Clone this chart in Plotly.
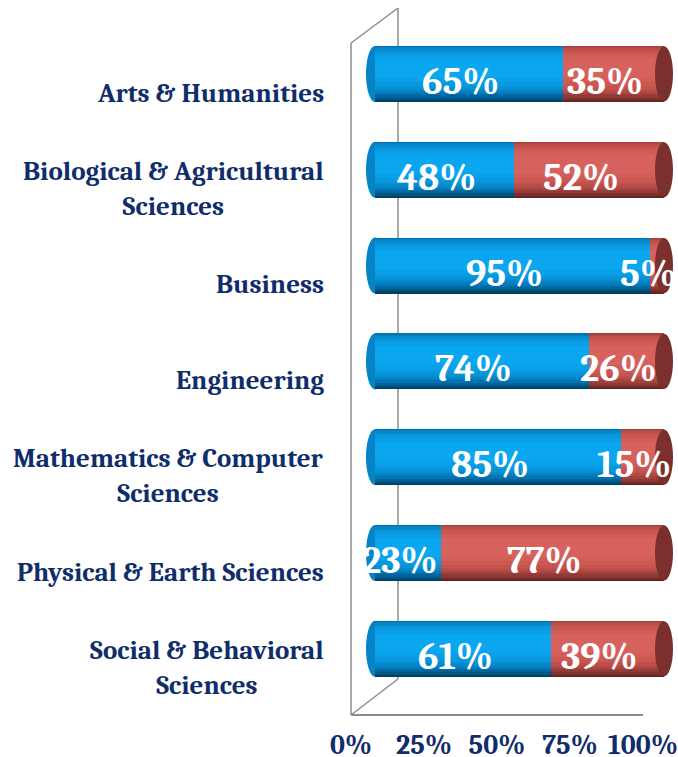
import plotly.graph_objects as go

categories = ["Arts & Humanities", "Biological & Agricultural<br>Sciences", "Business",
              "Engineering", "Mathematics & Computer<br>Sciences", "Physical & Earth Sciences",
              "Social & Behavioral<br>Sciences"]
blue_vals = [65, 48, 95, 74, 85, 23, 61]
red_vals = [35, 52, 5, 26, 15, 77, 39]
tick_vals = [0, 25, 50, 75, 100]
tick_text = ["0%", "25%", "50%", "75%", "100%"]

W, H = 678, 757
SERIF = "Cambria, 'DejaVu Serif Condensed', 'DejaVu Serif', serif"
NAVY = "#102D6B"
BW = 0.585  # bar thickness in category units
PXU = 2.89  # px per percent on the bar axis
CAP = 9 / PXU

idx = list(range(len(categories)))

blue_layers = [(0.00, 1.00, "#00435F"), (0.00, 0.96, "#005585"), (0.00, 0.92, "#00649C"),
               (0.00, 0.88, "#0272B0"), (0.02, 0.84, "#047FC0"), (0.04, 0.80, "#0689CC"),
               (0.07, 0.76, "#0792D6"), (0.11, 0.71, "#0899DF"), (0.16, 0.65, "#09A0E8"),
               (0.23, 0.57, "#0AA6EF")]
red_layers = [(0.00, 1.00, "#672522"), (0.00, 0.96, "#7D302D"), (0.00, 0.92, "#913936"),
              (0.00, 0.88, "#A3413D"), (0.02, 0.84, "#B24844"), (0.04, 0.80, "#BC4E49"),
              (0.07, 0.76, "#C5534E"), (0.11, 0.71, "#CC5853"), (0.16, 0.65, "#D25D58"),
              (0.23, 0.57, "#D7615C")]

fig = go.Figure()
for (t, b, c) in blue_layers:
    fig.add_trace(go.Bar(y=idx, x=blue_vals, base=[0] * len(idx), orientation="h",
                         width=(b - t) * BW, offset=-BW / 2 + t * BW,
                         marker=dict(color=c, line=dict(width=0)), hoverinfo="skip",
                         showlegend=False))
for (t, b, c) in red_layers:
    fig.add_trace(go.Bar(y=idx, x=red_vals, base=blue_vals, orientation="h",
                         width=(b - t) * BW, offset=-BW / 2 + t * BW,
                         marker=dict(color=c, line=dict(width=0)), hoverinfo="skip",
                         showlegend=False))

# invisible trace carrying the percentage tick axis
fig.add_trace(go.Scatter(x=[0, 100], y=[0, 0], xaxis="x2", yaxis="y", mode="markers",
                         marker=dict(opacity=0), hoverinfo="skip", showlegend=False))

shapes = []
for i in idx:
    # rounded left end of the blue cylinder
    shapes.append(dict(type="circle", xref="x", yref="y", x0=-CAP, x1=CAP,
                       y0=i - BW / 2, y1=i + BW / 2, fillcolor="#0483C6",
                       line=dict(width=0), layer="below"))
    # dark end face of the red cylinder
    end = blue_vals[i] + red_vals[i]
    shapes.append(dict(type="circle", xref="x", yref="y", x0=end - CAP, x1=end + CAP,
                       y0=i - BW / 2 + 0.004, y1=i + BW / 2 - 0.004, fillcolor="#7B302D",
                       line=dict(width=0), layer="above"))

GRAY = "#8C8C8C"
def P(x, y):
    return x / W, 1 - y / H
frame = [((351, 43), (398, 8)), ((398, 8), (398, 679)), ((351, 43), (351, 715)),
         ((351, 715), (398, 679))]
for (a, b) in frame:
    x0, y0 = P(*a)
    x1, y1 = P(*b)
    shapes.append(dict(type="line", xref="paper", yref="paper", x0=x0, y0=y0, x1=x1, y1=y1,
                       line=dict(color=GRAY, width=1.5), layer="below"))

annotations = []
for i in idx:
    annotations.append(dict(x=326 / W, xref="paper", y=i, yref="y", text=categories[i],
                            xanchor="right", yanchor="middle", align="center", yshift=-19,
                            showarrow=False,
                            font=dict(family=SERIF, size=27, color=NAVY, weight="bold")))
    annotations.append(dict(x=blue_vals[i] / 2, xref="x", y=i, yref="y",
                            text=f"{blue_vals[i]}%", showarrow=False, xshift=-8, yshift=-8,
                            font=dict(family=SERIF, size=38, color="white", weight="bold")))
    annotations.append(dict(x=blue_vals[i] + red_vals[i] / 2, xref="x", y=i, yref="y",
                            text=f"{red_vals[i]}%", showarrow=False, xshift=-8, yshift=-8,
                            font=dict(family=SERIF, size=38, color="white", weight="bold")))

fig.update_layout(
    width=W, height=H, margin=dict(l=0, r=0, t=0, b=0, autoexpand=False),
    paper_bgcolor="white", plot_bgcolor="rgba(0,0,0,0)",
    barmode="overlay", bargap=0,
    xaxis=dict(domain=[(375 - 9) / W, (664 + 9) / W], range=[-CAP, 100 + CAP],
               visible=False, automargin=False),
    xaxis2=dict(domain=[351 / W, 643 / W], range=[0, 100], anchor="free",
                position=1 - 715 / H, showline=True, linecolor=GRAY, linewidth=1.5,
                showgrid=False, zeroline=False, tickvals=tick_vals, ticktext=tick_text,
                ticks="", ticklabelstandoff=5, automargin=False, ticklabeloverflow="allow",
                tickfont=dict(family=SERIF, size=28, color=NAVY, weight="bold")),
    yaxis=dict(domain=[0, 1], range=[(H - 74) / 95.8, -74 / 95.8], visible=False,
               automargin=False),
    shapes=shapes, annotations=annotations,
)

fig.write_html("out.html", config={"displayModeBar": False},
               post_script="document.body.style.margin='0px';"
                           "document.body.style.overflow='hidden';")
